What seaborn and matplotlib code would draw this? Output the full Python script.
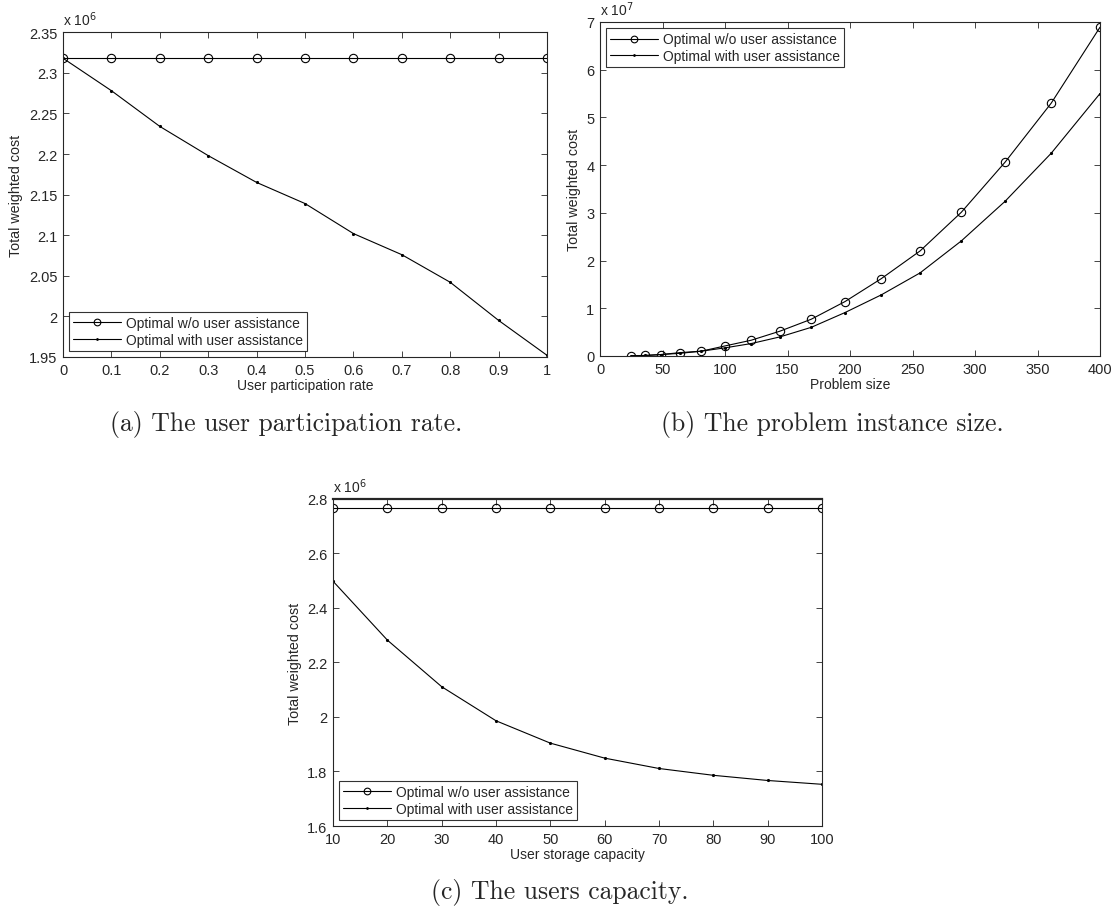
import numpy as np
import pandas as pd
import seaborn as sns
import matplotlib
matplotlib.use("Agg")
import matplotlib.pyplot as plt
from matplotlib.ticker import FuncFormatter

sns.set_style("ticks")
plt.rcParams['font.family'] = ['Liberation Sans', 'DejaVu Sans']
plt.rcParams['xtick.direction'] = 'in'
plt.rcParams['ytick.direction'] = 'in'
plt.rcParams['xtick.top'] = True
plt.rcParams['ytick.right'] = True

# (a) user participation rate, cost in units of 1e6
rate = [0, 0.1, 0.2, 0.3, 0.4, 0.5, 0.6, 0.7, 0.8, 0.9, 1.0]
rate_without = [2.318] * 11
rate_with = [2.318, 2.278, 2.234, 2.198, 2.165, 2.139, 2.102, 2.076, 2.042, 1.995, 1.952]

# (b) problem size, cost in units of 1e7
size = [25, 36, 49, 64, 81, 100, 121, 144, 169, 196, 225, 256, 289, 324, 361, 400]
size_without = [0.005, 0.01, 0.03, 0.07, 0.10, 0.21, 0.33, 0.52, 0.77, 1.14, 1.62, 2.20, 3.01, 4.06, 5.30, 6.89]
size_with = [0.005, 0.01, 0.03, 0.055, 0.10, 0.17, 0.26, 0.40, 0.60, 0.91, 1.28, 1.74, 2.41, 3.24, 4.25, 5.50]

# (c) user storage capacity, cost in units of 1e6
cap = [10, 20, 30, 40, 50, 60, 70, 80, 90, 100]
cap_without = [2.768] * 10
cap_with = [2.498, 2.282, 2.111, 1.986, 1.904, 1.849, 1.811, 1.786, 1.767, 1.753]

lbl_without = "Optimal w/o user assistance"
lbl_with = "Optimal with user assistance"

fig = plt.figure(figsize=(11.18, 9.12), dpi=100)
ax_a = fig.add_axes([0.0564, 0.6075, 0.4329, 0.3560])
ax_b = fig.add_axes([0.5367, 0.6086, 0.4472, 0.3662])
ax_c = fig.add_axes([0.2979, 0.0932, 0.4374, 0.3586])

fmt = FuncFormatter(lambda v, p: f"{v:g}")


def draw(ax, x, y0, y1, xlim, xticks, ylim, yticks, xlabel, exp, legloc):
    sns.lineplot(x=x, y=y0, ax=ax, color='k', lw=0.8, marker='o', ms=6,
                 mfc='none', mec='k', mew=0.8, label=lbl_without)
    sns.lineplot(x=x, y=y1, ax=ax, color='k', lw=0.8, marker='.', ms=3,
                 mec='k', mfc='k', label=lbl_with)
    ax.set_xlim(*xlim)
    ax.set_ylim(*ylim)
    ax.set_xticks(xticks)
    ax.set_yticks(yticks)
    ax.xaxis.set_major_formatter(fmt)
    ax.yaxis.set_major_formatter(fmt)
    ax.tick_params(labelsize=10.5, length=4, width=0.6, pad=4)
    for s in ax.spines.values():
        s.set_linewidth(0.8)
    ax.set_xlabel(xlabel, fontsize=10, labelpad=1)
    ax.set_ylabel("Total weighted cost", fontsize=10.3, labelpad=4)
    ax.text(0.0, 1.012, "x 10$^{%d}$" % exp, transform=ax.transAxes,
            fontsize=10, ha='left', va='bottom')
    leg = ax.legend(loc=legloc, fontsize=10, frameon=True, fancybox=False,
                    edgecolor='k', borderpad=0.3, labelspacing=0.2,
                    handlelength=3.4, handletextpad=0.4, borderaxespad=0.45,
                    markerscale=0.8)
    leg.get_frame().set_linewidth(0.8)


draw(ax_a, rate, rate_without, rate_with, (0, 1), np.arange(0, 1.01, 0.1),
     (1.95, 2.35), np.arange(1.95, 2.351, 0.05), "User participation rate", 6, 'lower left')
draw(ax_b, size, size_without, size_with, (0, 400), np.arange(0, 401, 50),
     (0, 7), np.arange(0, 8, 1), "Problem size", 7, 'upper left')
draw(ax_c, cap, cap_without, cap_with, (10, 100), np.arange(10, 101, 10),
     (1.6, 2.8), np.arange(1.6, 2.81, 0.2), "User storage capacity", 6, 'lower left')
ax_c.spines['top'].set_linewidth(1.6)

cap_font = dict(fontsize=18.5, family=['cmr10', 'DejaVu Serif'], ha='center', va='center')
fig.text(286 / 1118, 1 - 425 / 912, "(a) The user participation rate.", **cap_font)
fig.text(832 / 1118, 1 - 425 / 912, "(b) The problem instance size.", **cap_font)
fig.text(560 / 1118, 1 - 893 / 912, "(c) The users capacity.", **cap_font)

fig.savefig("out.png", dpi=100)
